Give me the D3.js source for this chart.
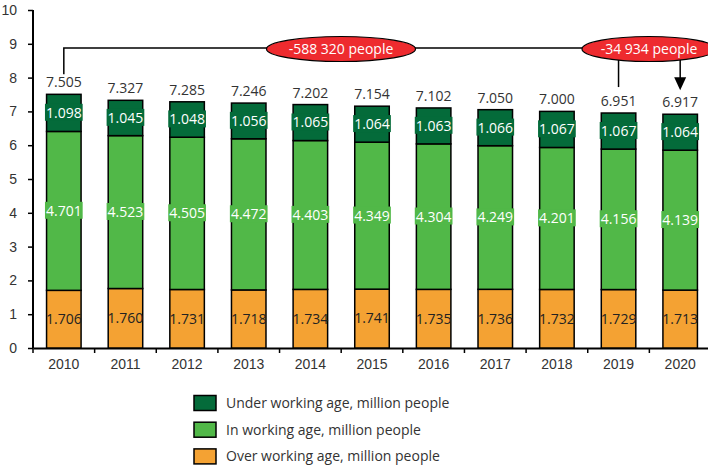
<!DOCTYPE html>
<html><head><meta charset="utf-8">
<script src="https://cdn.jsdelivr.net/npm/d3@7"></script>
<style>body{margin:0;background:#fff}svg{display:block;font-family:"Open Sans",sans-serif}</style>
</head><body><svg id="c" width="708" height="470"></svg>
<script>
const years = ["2010","2011","2012","2013","2014","2015","2016","2017","2018","2019","2020"];
const over = [1.706,1.760,1.731,1.718,1.734,1.741,1.735,1.736,1.732,1.729,1.713];
const inWork = [4.701,4.523,4.505,4.472,4.403,4.349,4.304,4.249,4.201,4.156,4.139];
const under = [1.098,1.045,1.048,1.056,1.065,1.064,1.063,1.066,1.067,1.067,1.064];
const totals = [7.505,7.327,7.285,7.246,7.202,7.154,7.102,7.050,7.000,6.951,6.917];
const yTicks = [0,1,2,3,4,5,6,7,8,9,10];
const seriesNames = ["Under working age, million people","In working age, million people","Over working age, million people"];
const notes = [{text:"-588 320 people", from:"2010", to:"2020"},{text:"-34 934 people", from:"2019", to:"2020"}];

const colors = {over:"#F4A233", inWork:"#51B848", under:"#046B3A"};
const svg = d3.select("#c");
const x = d3.scaleBand().domain(years).range([33,711]).paddingInner(0.44).paddingOuter(0.22);
const y = d3.scaleLinear().domain([0,10]).range([348,10]);

// axes
const yAxis = svg.append("g").attr("transform","translate(33,0)")
  .call(d3.axisLeft(y).tickValues(yTicks).tickFormat(d3.format("d")).tickSize(5).tickPadding(11));
yAxis.select(".domain").attr("stroke","#000").attr("stroke-width",2).attr("d","M0,348V10");
yAxis.selectAll(".tick line").attr("stroke","#000").attr("stroke-width",1.5);
yAxis.selectAll("text").attr("font-size",14).attr("fill","#333");

const xAxisScale = d3.scaleBand().domain(years).range([33,711]);
const xAxis = svg.append("g").attr("transform","translate(0,348)")
  .call(d3.axisBottom(xAxisScale).tickSize(0).tickPadding(11));
xAxis.select(".domain").attr("stroke","#000").attr("stroke-width",2);
xAxis.selectAll("text").attr("font-size",14).attr("fill","#333");
// boundary ticks
svg.append("g").selectAll("line").data(years).join("line")
  .attr("x1",d=>xAxisScale(d)).attr("x2",d=>xAxisScale(d))
  .attr("y1",348).attr("y2",353).attr("stroke","#000").attr("stroke-width",1.5);

const data = years.map((yr,i)=>({yr, over:over[i], inWork:inWork[i], under:under[i], total:totals[i]}));
const keys = ["over","inWork","under"];
const stack = d3.stack().keys(keys)(data);

const g = svg.append("g");
stack.forEach(layer=>{
  g.selectAll(null).data(layer).join("rect")
    .attr("x",d=>x(d.data.yr)).attr("width",x.bandwidth())
    .attr("y",d=>y(d[1])).attr("height",d=>y(d[0])-y(d[1]))
    .attr("fill",colors[layer.key]).attr("stroke","#000").attr("stroke-width",1.5);
});
// segment labels
const fmt = d3.format(".3f");
stack.forEach(layer=>{
  layer.forEach(d=>{
    const cx = x(d.data.yr)+x.bandwidth()/2;
    const cy = (y(d[0])+y(d[1]))/2;
    const t = fmt(d.data[layer.key]);
    const lg = g.append("g");
    const txt = lg.append("text").attr("x",cx).attr("y",cy).attr("dy","0.35em")
      .attr("text-anchor","middle").attr("font-size",14)
      .attr("fill", layer.key==="over" ? "#222" : "#fff").text(t);
    if(layer.key!=="over"){
      const bb = txt.node().getBBox();
      lg.insert("rect","text").attr("x",bb.x-1).attr("y",bb.y+1).attr("width",bb.width+2).attr("height",bb.height-2)
        .attr("fill",colors[layer.key]);
    }
  });
});
// totals
g.selectAll(".tot").data(data).join("text")
  .attr("x",d=>x(d.yr)+x.bandwidth()/2).attr("y",d=>y(d.total)-7)
  .attr("text-anchor","middle").attr("font-size",14).attr("fill","#333").text(d=>fmt(d.total));

// annotations
const cx = yr=>x(yr)+x.bandwidth()/2;
const ly = 48;
const ann = svg.append("g");
ann.append("path").attr("d",`M${cx("2010")},${y(totals[0])-20}V${ly}H${cx("2020")}`)
  .attr("fill","none").attr("stroke","#000").attr("stroke-width",1.5);
ann.append("line").attr("x1",cx("2019")).attr("x2",cx("2019")).attr("y1",ly).attr("y2",y(totals[9])-26)
  .attr("stroke","#000").attr("stroke-width",1.5);
const ax = cx("2020"), tipY = y(totals[10])-24;
ann.append("line").attr("x1",ax).attr("x2",ax).attr("y1",ly).attr("y2",tipY-10)
  .attr("stroke","#000").attr("stroke-width",1.5);
ann.append("path").attr("d",`M${ax-6},${tipY-13}L${ax+6},${tipY-13}L${ax},${tipY}Z`).attr("fill","#000");
const ell = [{n:notes[0], cx:341, rx:74.5},{n:notes[1], cx:649, rx:67}];
ell.forEach(e=>{
  ann.append("ellipse").attr("cx",e.cx).attr("cy",ly+1).attr("rx",e.rx).attr("ry",12.5)
    .attr("fill","#EE2B2F").attr("stroke","#000").attr("stroke-width",1.2);
  ann.append("text").attr("x",e.cx).attr("y",ly+1).attr("dy","0.35em").attr("text-anchor","middle")
    .attr("font-size",14).attr("fill","#fff").text(e.n.text);
});

// legend
const legend = svg.append("g");
const lkeys = ["under","inWork","over"];
lkeys.forEach((k,i)=>{
  const ly2 = 403 + i*26.7;
  legend.append("rect").attr("x",194).attr("y",ly2-7.5).attr("width",22).attr("height",15)
    .attr("fill",colors[k]).attr("stroke","#000").attr("stroke-width",1.5);
  legend.append("text").attr("x",226).attr("y",ly2).attr("dy","0.35em").attr("font-size",14)
    .attr("fill","#333").text(seriesNames[i]);
});
</script></body></html>
